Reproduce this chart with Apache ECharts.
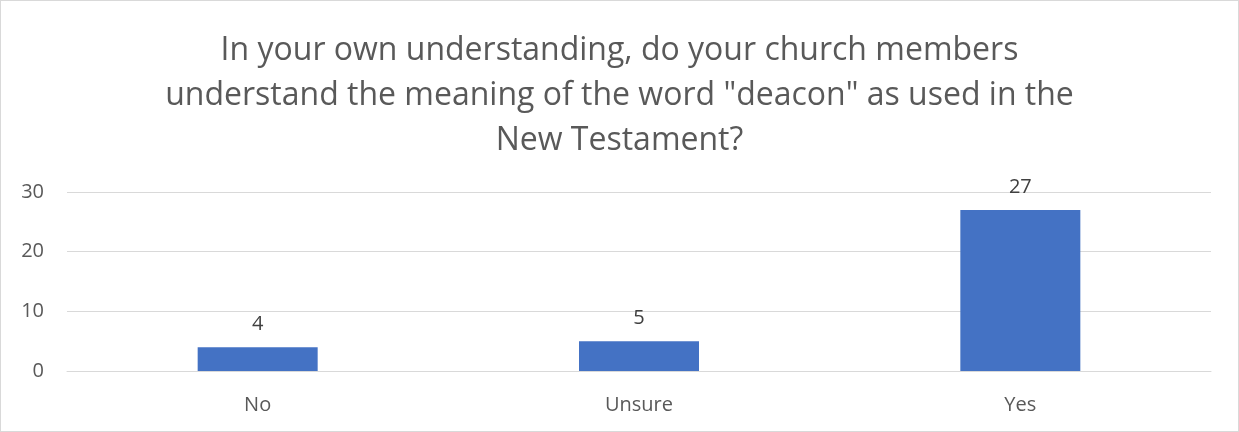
<!DOCTYPE html>
<html>
<head>
<meta charset="utf-8">
<script src="https://cdn.jsdelivr.net/npm/echarts@6/dist/echarts.min.js"></script>
<style>
  html, body { margin: 0; padding: 0; background: #fff; }
  #chart { width: 1239px; height: 432px; box-sizing: border-box; border: 1px solid #d9d9d9; }
</style>
</head>
<body>
<div id="chart"></div>
<script>
// Survey answers and their counts
const categories = ['No', 'Unsure', 'Yes'];
const counts = [4, 5, 27];
const yTicks = { min: 0, max: 30, interval: 10 };
const titleText = 'In your own understanding, do your church members\nunderstand the meaning of the word "deacon" as used in the\nNew Testament?';

const chart = echarts.init(document.getElementById('chart'), null, { renderer: 'canvas' });
const fontFamily = '"Open Sans", "Noto Sans", sans-serif';

chart.setOption({
  animation: false,
  title: {
    text: titleText,
    left: 'center',
    top: 22,
    textStyle: {
      fontFamily: fontFamily,
      fontSize: 32,
      fontWeight: 'normal',
      color: '#595959',
      lineHeight: 45
    }
  },
  grid: { left: 66, right: 27, top: 191, bottom: 60, containLabel: false },
  xAxis: {
    type: 'category',
    data: categories,
    axisLine: { show: true, lineStyle: { color: '#d9d9d9', width: 1 } },
    axisTick: { show: false },
    axisLabel: { fontFamily: fontFamily, fontSize: 20, color: '#595959', margin: 24 }
  },
  yAxis: {
    type: 'value',
    min: yTicks.min,
    max: yTicks.max,
    interval: yTicks.interval,
    axisLine: { show: false },
    axisTick: { show: false },
    splitLine: { lineStyle: { color: '#d9d9d9', width: 1 } },
    axisLabel: { fontFamily: fontFamily, fontSize: 20, color: '#595959', margin: 23 }
  },
  series: [{
    type: 'bar',
    data: counts,
    barWidth: 120,
    itemStyle: { color: '#4472c4' },
    label: {
      show: true,
      position: 'top',
      distance: 13,
      fontFamily: fontFamily,
      fontSize: 20,
      color: '#404040'
    }
  }]
});
</script>
</body>
</html>
